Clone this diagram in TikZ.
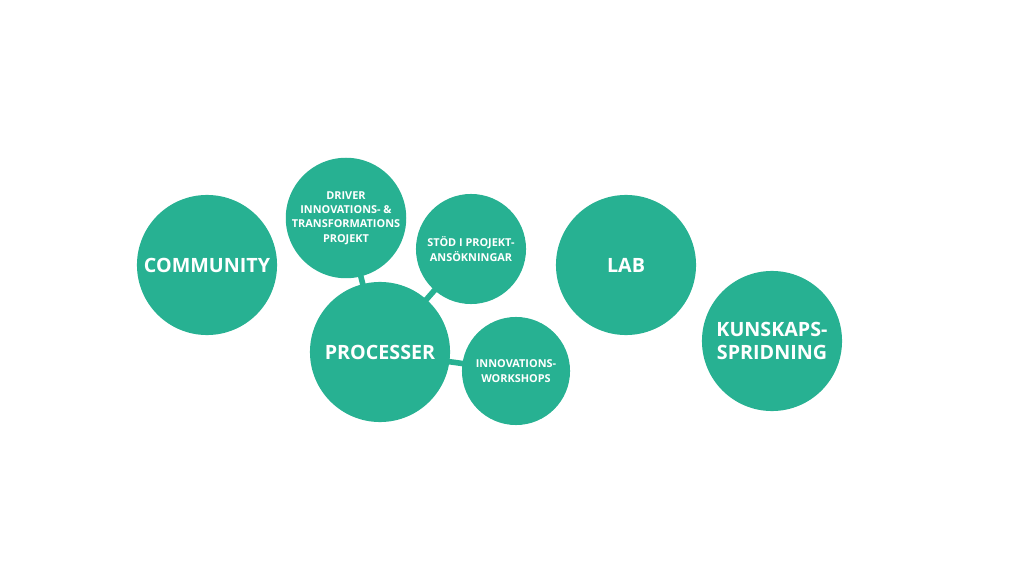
\documentclass[tikz,border=0pt]{standalone}
\usepackage{fontspec}
\setmainfont{Open Sans}
\usepackage{tikz}
\definecolor{teal}{HTML}{27B192}
\tikzset{
  bubble/.style={circle, fill=teal, text=white, align=center, font=\bfseries, inner sep=0pt},
  big/.style={bubble, minimum size=1.4cm, font=\bfseries\fontsize{5.6}{6.6}\selectfont},
  small/.style={bubble, font=\bfseries\fontsize{3.1}{4.1}\selectfont},
  link/.style={teal, line width=1.6pt}
}
\begin{document}
\begin{tikzpicture}[x=0.01cm,y=-0.01cm]
        \useasboundingbox (0,0) rectangle (1024,576);

        % connectors first
        \coordinate (p) at (380,352);
        \draw[link] (p) -- (346,218);
        \draw[link] (p) -- (471,249);
        \draw[link] (p) -- (516,371);

        % big circles
        \node[big] (community) at (207,265) {COMMUNITY};
        \node[big] (processer) at (380,352) {PROCESSER};
        \node[big] (lab) at (626,265) {LAB};
        \node[big] (kunskap) at (772,341) {KUNSKAPS-\\SPRIDNING};

        % small circles
        \node[small, minimum size=1.0cm] (driver) at (346,218) {DRIVER\\INNOVATIONS- \&\\TRANSFORMATIONS\\PROJEKT};
        \node[small, minimum size=1.1cm] (stod) at (471,249) {STÖD I PROJEKT-\\ANSÖKNINGAR};
        \node[small, minimum size=1.08cm] (workshop) at (516,371) {INNOVATIONS-\\WORKSHOPS};
\end{tikzpicture}
\end{document}
